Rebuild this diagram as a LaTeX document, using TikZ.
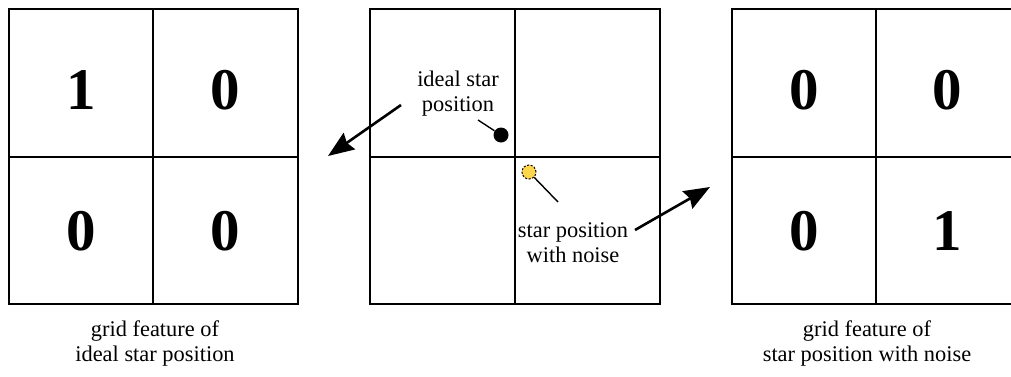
\documentclass[tikz,border=0pt]{standalone}
\usepackage{fontspec}
\setmainfont{LiberationSerif}[Extension=.ttf, UprightFont=*-Regular, BoldFont=*-Bold, ItalicFont=*-Italic, BoldItalicFont=*-BoldItalic]
\usetikzlibrary{arrows.meta}

\begin{document}
\begin{tikzpicture}[
    x=0.5pt, y=-0.5pt,
    outer/.style={draw, line width=1.3pt},
    inner/.style={draw, line width=0.75pt},
    digit/.style={font=\rmfamily\fontsize{29.5}{30}\selectfont\bfseries, inner sep=0},
    caption/.style={font=\rmfamily\fontsize{11.2}{12.5}\selectfont, align=center, inner sep=0},
    ideal/.style={circle, fill=black, minimum size=7.5pt, inner sep=0},
    noisy/.style={circle, draw, dashed, line width=0.5pt, dash pattern=on 1pt off 0.8pt, fill=yellow!60!orange!70, minimum size=7pt, inner sep=0},
    leader/.style={line width=0.7pt},
    arrow/.style={-{Stealth[length=13pt, width=10pt, inset=1.5pt]}, line width=1.3pt}
]
\useasboundingbox (0,0) rectangle (1011,376);

% Left grid: feature of ideal position
\draw[inner] (153,9) -- (153,304) (9,157) -- (298,157);
\draw[outer] (9,9) rectangle (298,304);
\node[digit] (l11) at (81,90) {1};
\node[digit] (l12) at (225,90) {0};
\node[digit] (l21) at (81,231) {0};
\node[digit] (l22) at (225,231) {0};
\node[caption] (lcap) at (155,343) {grid feature of\\ideal star position};

% Middle grid: star positions
\draw[inner] (515,9) -- (515,304) (370,157) -- (660,157);
\draw[outer] (370,9) rectangle (660,304);
\node[caption] (idealtxt) at (458,94) {ideal star\\position};
\node[ideal] (idealdot) at (501,135) {};
\node[noisy] (noisydot) at (529,172) {};
\node[caption] (noisytxt) at (573,243) {star position\\with noise};
\coordinate (idealpt) at (478,120);
\coordinate (noisypt) at (558,202);
\draw[leader] (idealpt) -- (idealdot);
\draw[leader] (noisydot) -- (noisypt);

% Right grid: feature of noisy position
\draw[inner] (876,9) -- (876,304) (732,157) -- (1020,157);
\draw[outer] (732,9) rectangle (1020,304);
\node[digit] (r11) at (804,90) {0};
\node[digit] (r12) at (947,90) {0};
\node[digit] (r21) at (804,231) {0};
\node[digit] (r22) at (947,231) {1};
\node[caption] (rcap) at (867,343) {grid feature of\\star position with noise};

% Arrows
\coordinate (lstart) at (401,105);
\coordinate (ltip) at (328,156);
\coordinate (rstart) at (635,230);
\coordinate (rtip) at (710,187);
\draw[arrow] (lstart) -- (ltip);
\draw[arrow] (rstart) -- (rtip);

\end{tikzpicture}
\end{document}
